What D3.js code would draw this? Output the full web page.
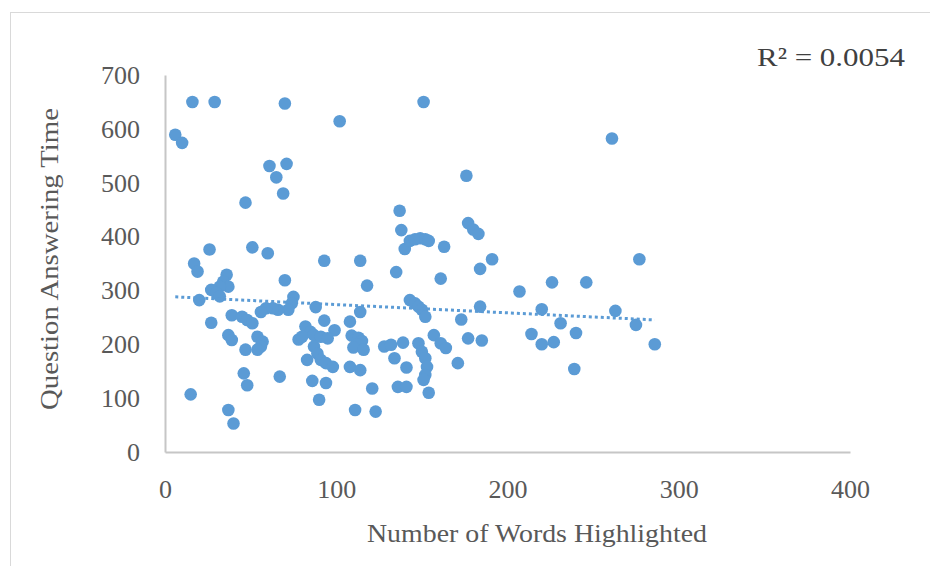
<!DOCTYPE html>
<html>
<head>
<meta charset="utf-8">
<script src="https://cdn.jsdelivr.net/npm/d3@7"></script>
<style>
  html, body { margin: 0; padding: 0; background: #ffffff; }
  svg { display: block; }
</style>
</head>
<body>
<svg id="chart" width="930" height="566"></svg>
<script>
// Words highlighted per participant and the matching answer time
const wordsHighlighted = [
  6, 10, 16, 29, 70, 102, 151, 261,
  61, 71, 65, 69, 47, 176, 137,
  138, 177, 180, 183, 140, 143, 146, 149, 152, 154, 163,
  26, 51, 60, 17, 19, 93, 114, 191, 277,
  135, 70, 36, 34, 37, 32, 161, 184, 118,
  27, 30, 32, 20, 75, 74, 72, 66, 63, 59, 56,
  207, 226, 246, 263, 184, 220, 173, 231, 240, 275, 286,
  143, 146, 148, 150, 152,
  88, 114, 27, 39, 45, 48, 51,
  93, 108, 82, 85, 87, 99,
  109, 113, 115, 112, 110, 116,
  37, 39, 54, 57, 56, 54, 47, 78,
  80, 91, 95,
  87, 89, 91, 83, 94, 98, 108, 114,
  128, 132, 139, 134, 141, 136, 141,
  148, 150, 152, 153, 152, 151, 154,
  157, 161, 164, 171,
  177, 185, 214, 220, 227, 239,
  46, 48, 67, 86, 94, 90, 15, 37, 40,
  111, 123, 121
];
const answerTime = [
  589, 574, 650, 650, 647, 614, 650, 582,
  531, 535, 510, 480, 463, 513, 448,
  412, 425, 413, 405, 377, 392, 395, 397, 395, 392, 381,
  376, 380, 369, 350, 335, 355, 355, 358, 358,
  334, 319, 329, 316, 307, 307, 322, 340, 309,
  301, 295, 289, 282, 288, 276, 264, 264, 267, 267, 260,
  298, 315, 315, 262, 270, 265, 246, 239, 221, 236, 200,
  282, 276, 270, 264, 251,
  269, 260, 240, 254, 251, 245, 239,
  244, 242, 233, 223, 217, 226,
  216, 212, 206, 200, 194, 190,
  217, 208, 214, 205, 196, 190, 190, 209,
  214, 214, 211,
  196, 183, 171, 171, 165, 158, 158, 152,
  196, 199, 203, 174, 157, 121, 121,
  202, 186, 174, 158, 143, 134, 110,
  217, 202, 193, 165,
  211, 207, 219, 200, 204, 154,
  146, 124, 140, 132, 128, 97, 107, 78, 53,
  78, 75, 118
];

const xTickValues = [0, 100, 200, 300, 400];
const yTickValues = [0, 100, 200, 300, 400, 500, 600, 700];

// Linear trendline: time = intercept + slope * words
const trendIntercept = 289;
const trendSlope = -0.153;
const rSquaredText = "R\u00B2 = 0.0054";

const xTitle = "Number of Words Highlighted";
const yTitle = "Question Answering Time";

const pointColor = "#5b9bd5";
const textColor = "#595959";
const axisColor = "#c6c6c6";
const serif = "'Liberation Serif', 'Times New Roman', serif";

const svg = d3.select("#chart");

const x = d3.scaleLinear().domain([0, 400]).range([165, 850]);
const y = d3.scaleLinear().domain([0, 700]).range([452, 75]);

// outer frame of the chart area
svg.append("rect")
  .attr("x", 10.5).attr("y", 12.5)
  .attr("width", 940).attr("height", 580)
  .attr("fill", "none")
  .attr("stroke", "#d9d9d9")
  .attr("stroke-width", 1);

// x axis
const xAxis = svg.append("g")
  .attr("transform", `translate(0,${y(0)})`)
  .call(d3.axisBottom(x).tickValues(xTickValues).tickSize(0).tickSizeOuter(0).tickPadding(28));
xAxis.select(".domain").attr("stroke", axisColor).attr("stroke-width", 2);
xAxis.selectAll("text")
  .attr("fill", textColor)
  .style("font-family", serif)
  .style("font-size", "26px");

// y axis
const yAxis = svg.append("g")
  .attr("transform", `translate(${x(0)},0)`)
  .call(d3.axisLeft(y).tickValues(yTickValues).tickSize(0).tickSizeOuter(0).tickPadding(25));
yAxis.select(".domain").attr("stroke", axisColor).attr("stroke-width", 2);
yAxis.selectAll("text")
  .attr("fill", textColor)
  .style("font-family", serif)
  .style("font-size", "26px");

// scatter points
const points = d3.range(wordsHighlighted.length).map(i => ({ w: wordsHighlighted[i], t: answerTime[i] }));
svg.append("g")
  .selectAll("circle")
  .data(points)
  .join("circle")
  .attr("cx", d => x(d.w))
  .attr("cy", d => y(d.t))
  .attr("r", 6.3)
  .attr("fill", pointColor);

// dotted trendline across the range of the data
const xMin = d3.min(wordsHighlighted);
const xMax = d3.max(wordsHighlighted);
svg.append("line")
  .attr("x1", x(xMin)).attr("y1", y(trendIntercept + trendSlope * xMin))
  .attr("x2", x(xMax)).attr("y2", y(trendIntercept + trendSlope * xMax))
  .attr("stroke", pointColor)
  .attr("stroke-width", 3)
  .attr("stroke-dasharray", "3 3");

// R² annotation
svg.append("text")
  .attr("x", 905).attr("y", 66)
  .attr("text-anchor", "end")
  .attr("fill", "#404040")
  .attr("textLength", 148)
  .attr("lengthAdjust", "spacingAndGlyphs")
  .style("font-family", serif)
  .style("font-size", "26px")
  .text(rSquaredText);

// axis titles
svg.append("text")
  .attr("x", 537).attr("y", 542)
  .attr("text-anchor", "middle")
  .attr("fill", textColor)
  .attr("textLength", 340)
  .attr("lengthAdjust", "spacingAndGlyphs")
  .style("font-family", serif)
  .style("font-size", "26px")
  .text(xTitle);

svg.append("text")
  .attr("transform", `translate(58,259) rotate(-90)`)
  .attr("text-anchor", "middle")
  .attr("fill", textColor)
  .attr("textLength", 302)
  .attr("lengthAdjust", "spacingAndGlyphs")
  .style("font-family", serif)
  .style("font-size", "26px")
  .text(yTitle);
</script>
</body>
</html>
